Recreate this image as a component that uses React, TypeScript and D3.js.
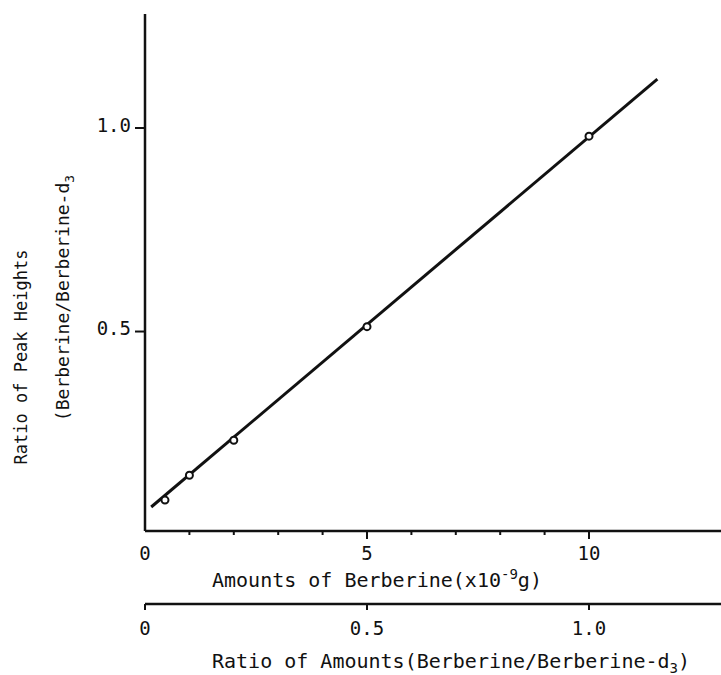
import * as d3 from 'd3';

// measured points
const amounts = [0.45, 1, 2, 5, 10];
const peakRatios = [0.086, 0.147, 0.233, 0.512, 0.98];

// fitted line ends
const fitAmounts = [0.14, 11.54];
const fitRatios = [0.069, 1.12];

const xMajorTicks = [0, 5, 10];
const xMinorTicks = [1, 2, 3, 4, 6, 7, 8, 9];
const yTicks = [0.5, 1.0];
const yTickLabels = ['0.5', '1.0'];
const ratioTicks = [0, 0.5, 1.0];
const ratioTickLabels = ['0', '0.5', '1.0'];

const W = 721, H = 675;
const font = '"DejaVu Sans Mono", monospace';
const ink = '#111';

const App = () => {
    const x = d3.scaleLinear().domain([0, 10]).range([145, 589]);
    const y = d3.scaleLinear().domain([0.01, 1.28]).range([531, 14]);
    const xr = d3.scaleLinear().domain([0, 1]).range([145, 589]);

    const axisY = y(0.01);
    const ratioAxisY = 604;

    const fit = fitAmounts.map((a, i) => [a, fitRatios[i]] as [number, number]);
    const fitPath = d3.line<[number, number]>()
        .x((d) => x(d[0]))
        .y((d) => y(d[1]))(fit);

    return (
        <svg width={W} height={H} style={{ position: 'absolute', left: 0, top: 0, background: '#fff' }}
            fontFamily={font} fill={ink}>
            {/* y axis */}
            <line x1={x(0)} x2={x(0)} y1={y(1.28)} y2={axisY} stroke={ink} strokeWidth={2.5} />
            {yTicks.map((t, i) => (
                <g key={t}>
                    <line x1={x(0) - 10} x2={x(0)} y1={y(t)} y2={y(t)} stroke={ink} strokeWidth={2} />
                    <text x={131} y={y(t)} dy="0.2em" textAnchor="end" fontSize={19}>{yTickLabels[i]}</text>
                </g>
            ))}

            {/* x axis */}
            <line x1={x(0)} x2={W} y1={axisY} y2={axisY} stroke={ink} strokeWidth={2.5} />
            {xMinorTicks.map((t) => (
                <line key={t} x1={x(t)} x2={x(t)} y1={axisY} y2={axisY + 4} stroke={ink} strokeWidth={2} />
            ))}
            {xMajorTicks.filter((t) => t > 0).map((t) => (
                <line key={t} x1={x(t)} x2={x(t)} y1={axisY} y2={axisY + 8} stroke={ink} strokeWidth={2} />
            ))}
            {xMajorTicks.map((t) => (
                <text key={t} x={x(t)} y={560} textAnchor="middle" fontSize={19}>{t}</text>
            ))}
            <text x={212} y={587} fontSize={20}>
                Amounts of Berberine(x10<tspan dy={-8} fontSize={14}>-9</tspan><tspan dy={8}>g)</tspan>
            </text>

            {/* second axis */}
            <line x1={xr(0)} x2={W} y1={ratioAxisY} y2={ratioAxisY} stroke={ink} strokeWidth={2.5} />
            {ratioTicks.map((t) => (
                <line key={t} x1={xr(t)} x2={xr(t)} y1={ratioAxisY} y2={ratioAxisY + 6} stroke={ink} strokeWidth={2} />
            ))}
            {ratioTicks.map((t, i) => (
                <text key={t} x={xr(t)} y={635} textAnchor="middle" fontSize={19}>{ratioTickLabels[i]}</text>
            ))}
            <text x={212} y={668} fontSize={20}>
                Ratio of Amounts(Berberine/Berberine-d<tspan dy={5} fontSize={14}>3</tspan><tspan dy={-5}>)</tspan>
            </text>

            {/* y labels */}
            <text transform={`translate(27,${357}) rotate(-90)`} textAnchor="middle" fontSize={17}>
                Ratio of Peak Heights
            </text>
            <text transform={`translate(69,${298}) rotate(-90)`} textAnchor="middle" fontSize={18}>
                (Berberine/Berberine-d<tspan dy={5} fontSize={13}>3</tspan>
            </text>

            {/* fit line */}
            <path d={fitPath ?? ''} fill="none" stroke={ink} strokeWidth={3} />

            {/* points */}
            {amounts.map((a, i) => (
                <circle key={a} cx={x(a)} cy={y(peakRatios[i])} r={3.5} fill="#fff" stroke={ink} strokeWidth={2} />
            ))}
        </svg>
    );
};

export default App;
